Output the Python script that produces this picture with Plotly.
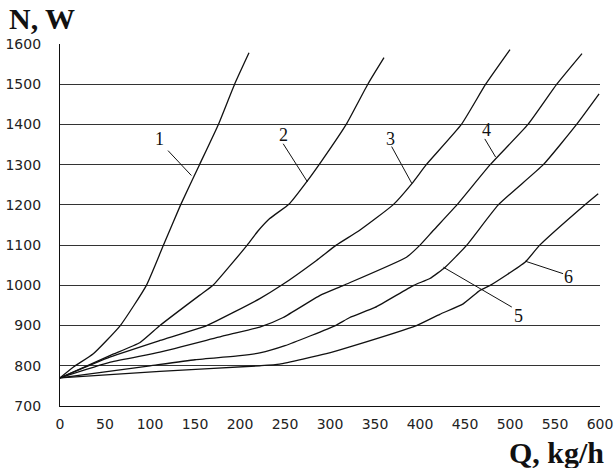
import plotly.graph_objects as go

# Power consumption N (W) versus flow rate Q (kg/h) for six operating modes
q1 = [0, 15, 37, 67, 96, 115, 134, 155, 176, 194, 210]
n1 = [770, 797, 830, 900, 1000, 1100, 1200, 1300, 1400, 1500, 1578]

q2 = [0, 56, 89, 111, 155, 170, 208, 220, 233, 255, 274, 291, 318, 342, 360]
n2 = [770, 826, 858, 900, 975, 1000, 1100, 1135, 1166, 1203, 1257, 1310, 1400, 1500, 1566]

q3 = [0, 56, 111, 163, 222, 246, 285, 307, 333, 370, 391, 407, 446, 473, 500]
n3 = [770, 822, 863, 900, 967, 1000, 1062, 1100, 1137, 1200, 1253, 1300, 1400, 1500, 1586]

q4 = [0, 56, 111, 185, 222, 248, 289, 315, 385, 400, 415, 441, 478, 520, 552, 580]
n4 = [770, 809, 834, 876, 896, 920, 975, 1000, 1070, 1100, 1137, 1200, 1300, 1400, 1500, 1576]

q5 = [0, 50, 100, 150, 200, 222, 250, 306, 322, 350, 393, 411, 428, 452, 487, 537, 574, 599]
n5 = [770, 785, 800, 815, 825, 832, 850, 900, 920, 945, 1000, 1017, 1045, 1100, 1200, 1300, 1400, 1476]

q6 = [0, 111, 222, 244, 296, 322, 396, 422, 448, 467, 478, 517, 533, 583, 598]
n6 = [770, 786, 800, 804, 830, 847, 900, 928, 954, 988, 1000, 1058, 1100, 1200, 1228]

series_q = [q1, q2, q3, q4, q5, q6]
series_n = [n1, n2, n3, n4, n5, n6]

# Curve numbers with their label points and leader endpoints (label end, curve end)
curve_names = ["1", "2", "3", "4", "5", "6"]
label_q = [111, 248, 367, 474, 509, 565]
label_n = [1365, 1373, 1364, 1385, 925, 1021]
leader_q = [[120, 146], [248, 275], [368.5, 391], [472, 484], [502, 426], [559, 517]]
leader_n = [[1335, 1273], [1352, 1257], [1345, 1253], [1364, 1319], [946, 1045], [1029, 1060]]

x_ticks = list(range(0, 601, 50))
y_ticks = list(range(700, 1601, 100))

fig = go.Figure()

for qs, ns in zip(series_q, series_n):
    fig.add_trace(go.Scatter(
        x=qs, y=ns, mode="lines",
        line=dict(color="#111111", width=1.3, shape="spline", smoothing=0.45),
        hoverinfo="skip", showlegend=False,
    ))

for lq, ln in zip(leader_q, leader_n):
    fig.add_trace(go.Scatter(
        x=lq, y=ln, mode="lines",
        line=dict(color="#111111", width=1),
        hoverinfo="skip", showlegend=False,
    ))

for name, xq, yn in zip(curve_names, label_q, label_n):
    fig.add_annotation(
        x=xq, y=yn, text=name, showarrow=False,
        font=dict(family="Liberation Serif, Times New Roman, serif", size=18, color="#111111"),
    )

fig.add_annotation(
    xref="paper", yref="paper", x=-0.033, y=1.07, xanchor="center", yanchor="middle",
    text="<b>N, W</b>", showarrow=False,
    font=dict(family="Liberation Serif, Times New Roman, serif", size=30, color="#111111"),
)
fig.add_annotation(
    xref="paper", yref="paper", x=0.919, y=-0.128, xanchor="center", yanchor="middle",
    text="<b>Q, kg/h</b>", showarrow=False,
    font=dict(family="Liberation Serif, Times New Roman, serif", size=30, color="#111111"),
)

tick_font = dict(family="DejaVu Sans, Verdana, sans-serif", size=14, color="#222222")

fig.update_xaxes(
    range=[0, 600], tickvals=x_ticks, ticktext=[str(v) for v in x_ticks],
    showgrid=False, zeroline=False, showline=True, linecolor="#111111", linewidth=1.2,
    ticks="", tickfont=tick_font, ticklabelstandoff=5, automargin=False,
)
fig.update_yaxes(
    range=[700, 1600], tickvals=y_ticks, ticktext=[str(v) for v in y_ticks],
    showgrid=True, gridcolor="#333333", gridwidth=1.2,
    zeroline=False, showline=True, linecolor="#111111", linewidth=1.2,
    ticks="", tickfont=tick_font, ticklabelstandoff=15, automargin=False,
)

fig.update_layout(
    width=615, height=468,
    margin=dict(l=60, r=15, t=44, b=62),
    paper_bgcolor="white", plot_bgcolor="white",
    showlegend=False,
)

fig.write_html("out.html")
